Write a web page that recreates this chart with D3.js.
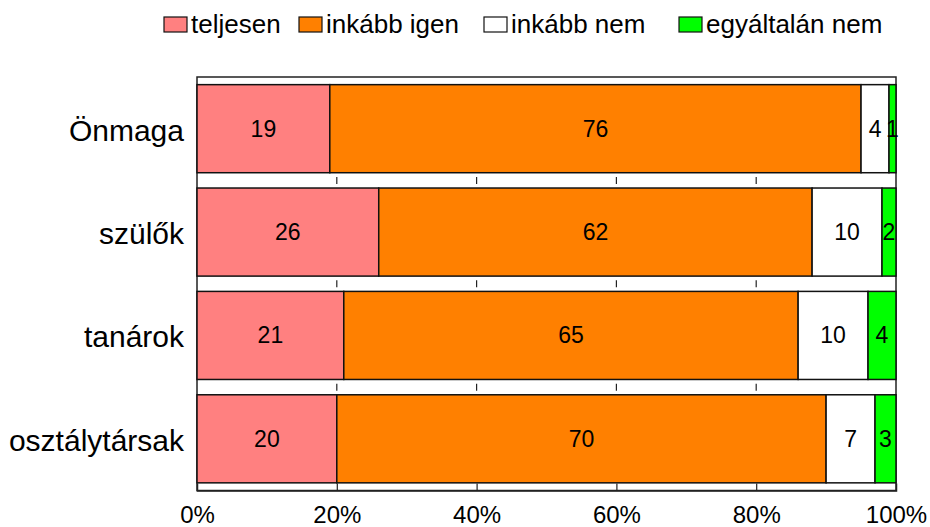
<!DOCTYPE html>
<html>
<head>
<meta charset="utf-8">
<script src="https://cdn.jsdelivr.net/npm/d3@7"></script>
<style>
  html, body { margin: 0; padding: 0; background: #fff; }
  svg { display: block; font-family: Arial, "Liberation Sans", sans-serif; }
</style>
</head>
<body>
<svg id="chart" width="930" height="527"></svg>
<script>
// Answer shares (%) per group
const categories = ["Önmaga", "szülők", "tanárok", "osztálytársak"];
const seriesNames = ["teljesen", "inkább igen", "inkább nem", "egyáltalán nem"];
const teljesen = [19, 26, 21, 20];
const inkabbIgen = [76, 62, 65, 70];
const inkabbNem = [4, 10, 10, 7];
const egyaltalanNem = [1, 2, 4, 3];
const seriesColors = ["#FF8080", "#FF8000", "#FFFFFF", "#00FF00"];
const tickValues = [0, 0.2, 0.4, 0.6, 0.8, 1];

const seriesValues = [teljesen, inkabbIgen, inkabbNem, egyaltalanNem];
const rows = categories.map((c, i) => {
  const r = { cat: c };
  seriesNames.forEach((s, j) => { r[s] = seriesValues[j][i]; });
  return r;
});

const svg = d3.select("#chart");
const plot = { left: 197, right: 896, top: 77, bottom: 490.5 };

const x = d3.scaleLinear().domain([0, 1]).range([plot.left, plot.right]);
const y = d3.scaleBand().domain(categories).range([plot.top, plot.bottom])
  .paddingInner(0.148).paddingOuter(0.074);

const stack = d3.stack().keys(seriesNames).offset(d3.stackOffsetExpand);
const layers = stack(rows);

// Plot frame
svg.append("rect")
  .attr("x", plot.left).attr("y", plot.top)
  .attr("width", plot.right - plot.left).attr("height", plot.bottom - plot.top)
  .attr("fill", "#fff").attr("stroke", "#222").attr("stroke-width", 1.5);

// Small tick marks between the bars
const step = y.step();
for (let k = 1; k < categories.length; k++) {
  const yy = plot.top + k * step;
  tickValues.slice(1, -1).forEach(t => {
    svg.append("line")
      .attr("x1", x(t)).attr("x2", x(t))
      .attr("y1", yy - 3.5).attr("y2", yy + 3.5)
      .attr("stroke", "#222").attr("stroke-width", 1.2);
  });
}

// Stacked bars
layers.forEach((layer, j) => {
  const g = svg.append("g");
  g.selectAll("rect").data(layer).join("rect")
    .attr("x", d => x(d[0]))
    .attr("y", d => y(d.data.cat))
    .attr("width", d => x(d[1]) - x(d[0]))
    .attr("height", y.bandwidth())
    .attr("fill", seriesColors[j])
    .attr("stroke", "#111").attr("stroke-width", 1.5);
  g.selectAll("text").data(layer).join("text")
    .attr("x", d => (x(d[0]) + x(d[1])) / 2)
    .attr("y", d => y(d.data.cat) + y.bandwidth() / 2 + 8)
    .attr("text-anchor", "middle")
    .attr("font-size", 23)
    .attr("fill", "#000")
    .text(d => d.data[layer.key]);
});

// Bottom axis with inward ticks
const xAxis = d3.axisBottom(x).tickValues(tickValues).tickSize(-7)
  .tickFormat(d3.format(".0%")).tickPadding(0);
const axisG = svg.append("g").attr("transform", `translate(0,${plot.bottom})`).call(xAxis);
axisG.select(".domain").attr("stroke", "#222").attr("stroke-width", 1.5);
axisG.selectAll(".tick line").attr("stroke", "#222").attr("stroke-width", 1.2)
  .filter(d => d === 0 || d === 1).remove();
axisG.selectAll(".tick text")
  .attr("font-size", 24).attr("font-family", "Arial, 'Liberation Sans', sans-serif")
  .attr("fill", "#000").attr("dy", null).attr("y", 32);

// Category labels
svg.append("g").selectAll("text").data(categories).join("text")
  .attr("x", 184)
  .attr("y", d => y(d) + y.bandwidth() / 2 + 12)
  .attr("text-anchor", "end")
  .attr("font-size", 30)
  .attr("fill", "#000")
  .text(d => d);

// Legend
const legendX = [164, 299, 484, 679];
const legend = svg.append("g");
seriesNames.forEach((s, j) => {
  legend.append("rect")
    .attr("x", legendX[j]).attr("y", 17)
    .attr("width", 23).attr("height", 15)
    .attr("fill", seriesColors[j]).attr("stroke", "#111").attr("stroke-width", 1.2);
  legend.append("text")
    .attr("x", legendX[j] + 27).attr("y", 33)
    .attr("font-size", 26).attr("fill", "#000")
    .text(s);
});
</script>
</body>
</html>
